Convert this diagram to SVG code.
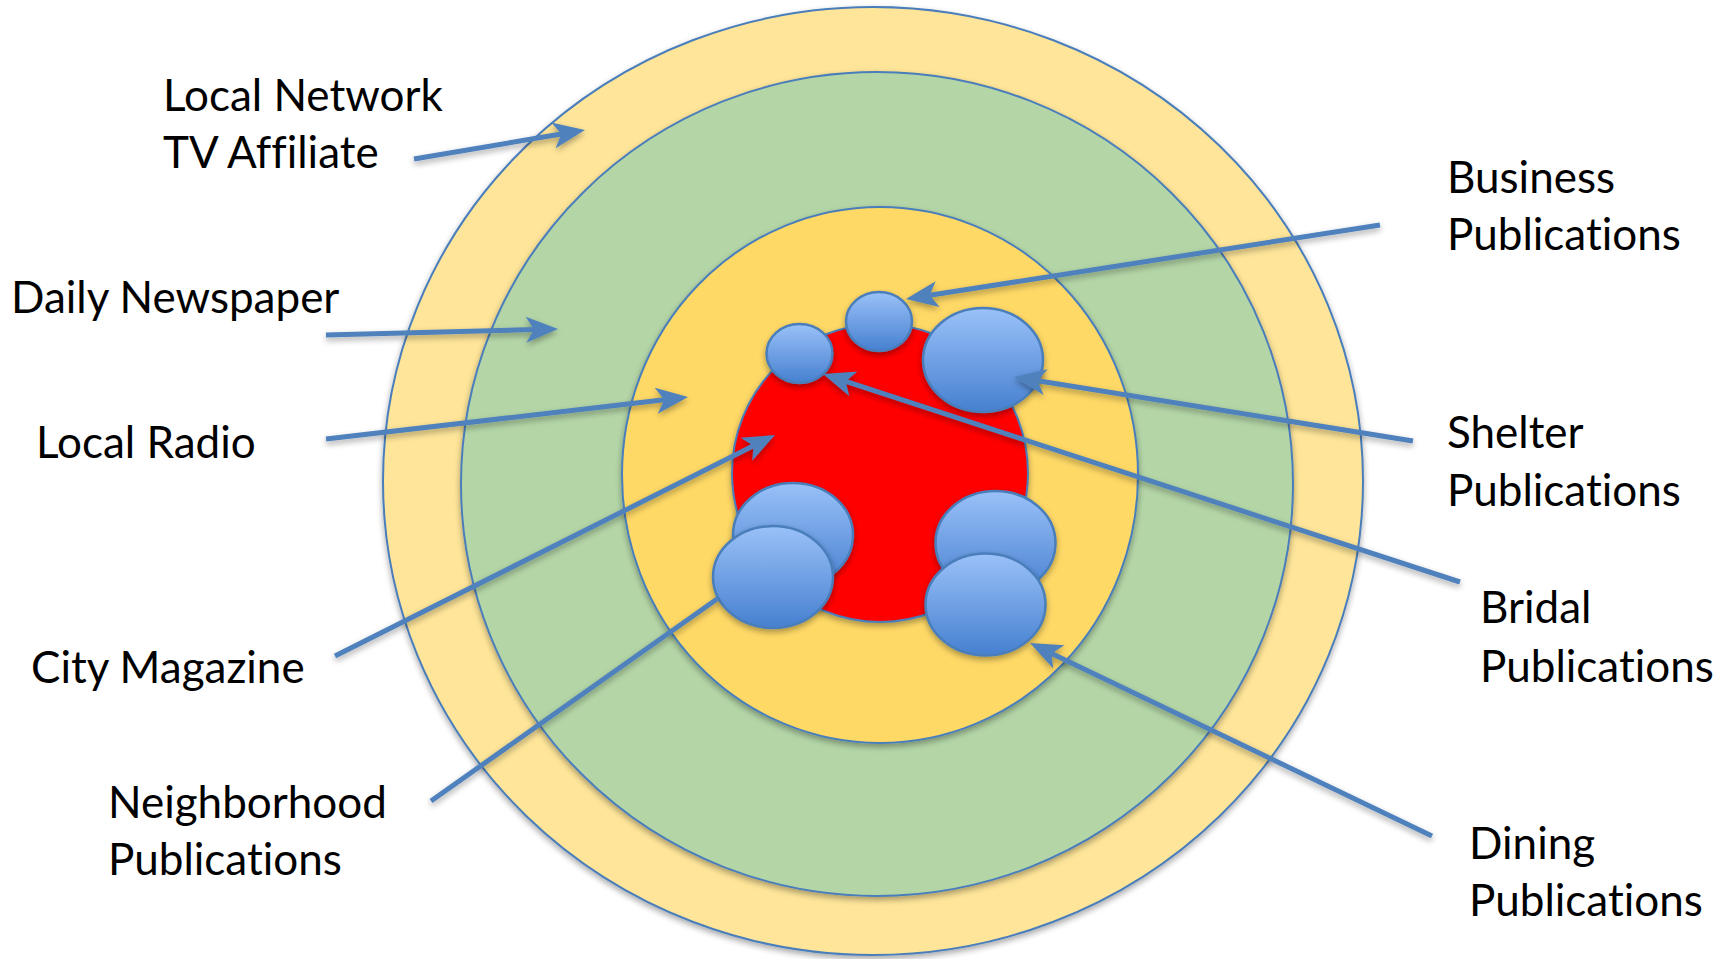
<svg xmlns="http://www.w3.org/2000/svg" width="1721" height="959" viewBox="0 0 1721 959">
<style>
.ring{stroke:#4a7ebb;stroke-width:2;filter:url(#sh)}
.bub{fill:url(#bg);stroke:#4a7ebb;stroke-width:2.5;filter:url(#sh)}
.con{fill:none;stroke:#4f81bd;stroke-width:5;stroke-linecap:butt}
.lbl{font-family:Lato,"Open Sans","Liberation Sans",sans-serif;font-size:44px;fill:#000;font-variant-ligatures:none}
</style>
<defs>
<linearGradient id="bg" x1="0" y1="0" x2="0" y2="1">
<stop offset="0" stop-color="#9ac1f8"/>
<stop offset="1" stop-color="#4680d0"/>
</linearGradient>
<filter id="sh" x="-10%" y="-10%" width="120%" height="125%">
<feGaussianBlur in="SourceAlpha" stdDeviation="3"/>
<feOffset dy="3" result="o"/>
<feComponentTransfer><feFuncA type="linear" slope="0.35"/></feComponentTransfer>
<feMerge><feMergeNode/><feMergeNode in="SourceGraphic"/></feMerge>
</filter>
<marker id="ah" markerUnits="userSpaceOnUse" markerWidth="40" markerHeight="30" viewBox="-10 -15 40 30" refX="0" refY="0" orient="auto" overflow="visible">
<path d="M24,0 L-8,-13 L0,0 L-8,13 Z" fill="#4f81bd"/>
</marker>
</defs>
<rect width="1721" height="959" fill="#fff"/>
<g id="ring-tv"><ellipse class="ring" cx="873" cy="481" rx="490" ry="474" fill="#fee599"/></g>
<g id="ring-newspaper"><ellipse class="ring" cx="877" cy="484" rx="416" ry="412" fill="#b4d6a7"/></g>
<g id="ring-radio"><ellipse class="ring" cx="880" cy="475" rx="258" ry="268" fill="#ffd966"/></g>
<g id="core-city-magazine"><ellipse class="ring" cx="880" cy="473" rx="148" ry="149" fill="#ff0000"/></g>
<g id="bubble-neighborhood-back"><ellipse class="bub" cx="793" cy="535" rx="60" ry="52"/></g>
<g id="bubble-neighborhood"><ellipse class="bub" cx="773" cy="577" rx="60" ry="51"/></g>
<g id="bubble-dining-back"><ellipse class="bub" cx="995.5" cy="543" rx="60" ry="52"/></g>
<g id="bubble-dining"><ellipse class="bub" cx="985.5" cy="604.5" rx="60" ry="51"/></g>
<g id="bubble-bridal"><ellipse class="bub" cx="799.5" cy="353.5" rx="33" ry="29.5"/></g>
<g id="bubble-business"><ellipse class="bub" cx="879" cy="321.5" rx="33" ry="29.5"/></g>
<g id="bubble-shelter"><ellipse class="bub" cx="983" cy="360" rx="60" ry="52"/></g>
<g id="connectors" filter="url(#sh)">
<line class="con" x1="414" y1="159" x2="561.3" y2="134" marker-end="url(#ah)"/>
<line class="con" x1="326" y1="335" x2="534" y2="329.6" marker-end="url(#ah)"/>
<line class="con" x1="326" y1="439" x2="664.2" y2="399.8" marker-end="url(#ah)"/>
<line class="con" x1="335" y1="656" x2="753.5" y2="445.8" marker-end="url(#ah)"/>
<line class="con" x1="431" y1="801" x2="717.8" y2="598.5"/>
<line class="con" x1="1380" y1="225" x2="929.7" y2="295.3" marker-end="url(#ah)"/>
<line class="con" x1="1413" y1="441" x2="1037.7" y2="380.8" marker-end="url(#ah)"/>
<line class="con" x1="1460" y1="582" x2="845.8" y2="381.4" marker-end="url(#ah)"/>
<line class="con" x1="1432" y1="836" x2="1051.6" y2="653.4" marker-end="url(#ah)"/>
</g>
<g id="label-tv"><text class="lbl" x="163" y="111">Local Network</text><text class="lbl" x="163" y="168">TV Affiliate</text></g>
<g id="label-newspaper"><text class="lbl" x="11" y="313">Daily Newspaper</text></g>
<g id="label-radio"><text class="lbl" x="36" y="458">Local Radio</text></g>
<g id="label-city"><text class="lbl" x="31" y="683">City Magazine</text></g>
<g id="label-neighborhood"><text class="lbl" x="108" y="818">Neighborhood</text><text class="lbl" x="108" y="875">Publications</text></g>
<g id="label-business"><text class="lbl" x="1447" y="193">Business</text><text class="lbl" x="1447" y="250">Publications</text></g>
<g id="label-shelter"><text class="lbl" x="1447" y="448">Shelter</text><text class="lbl" x="1447" y="506">Publications</text></g>
<g id="label-bridal"><text class="lbl" x="1480" y="623">Bridal</text><text class="lbl" x="1480" y="682">Publications</text></g>
<g id="label-dining"><text class="lbl" x="1469" y="859">Dining</text><text class="lbl" x="1469" y="916">Publications</text></g>
</svg>
